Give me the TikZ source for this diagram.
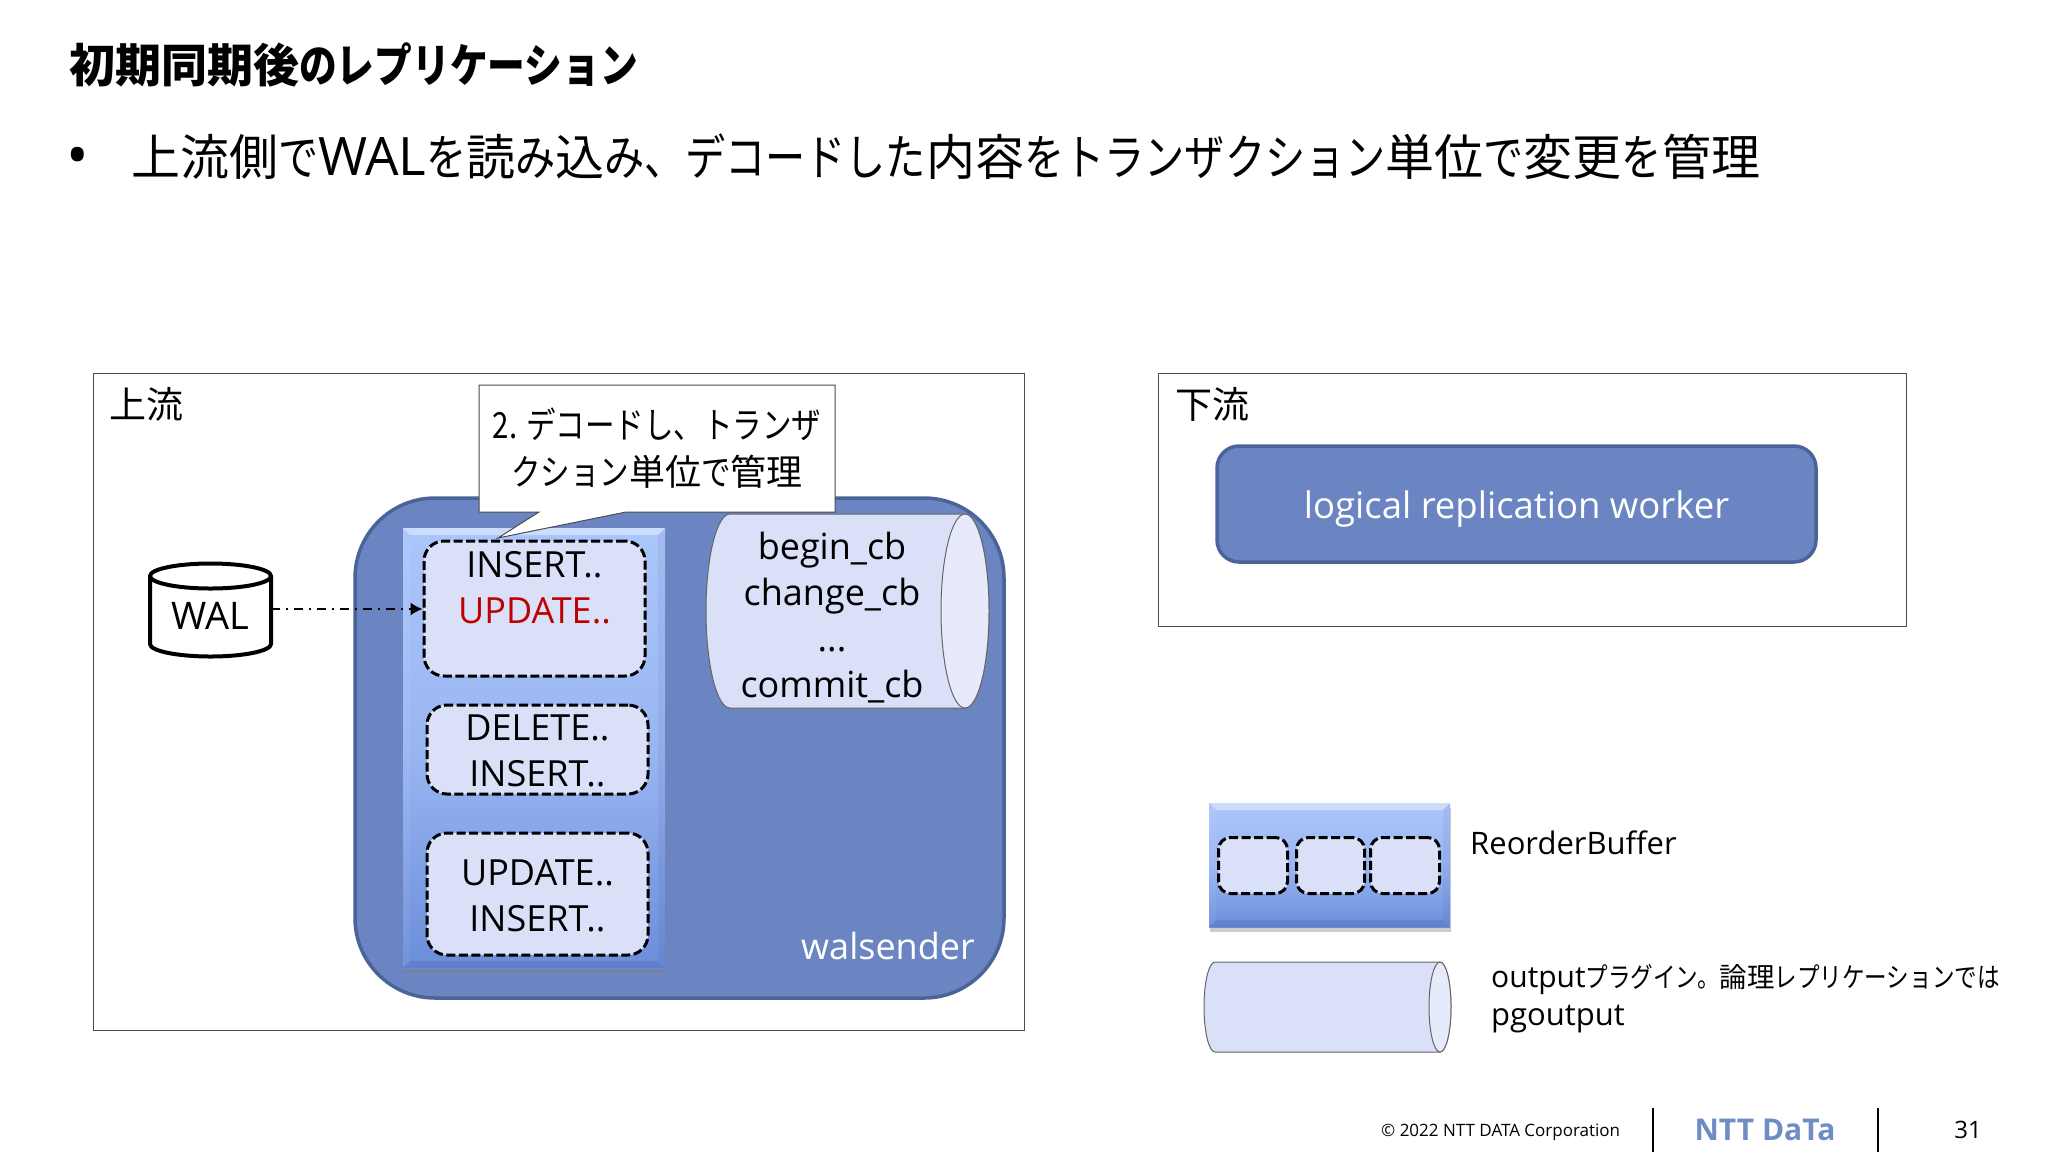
\documentclass[tikz,border=0pt]{standalone}
\usepackage{fontspec}
\setmainfont{Open Sans}
\newfontfamily\jpfont{Noto Sans CJK JP}
\newfontfamily\kanafont[FakeStretch=0.82]{Noto Sans CJK JP}
\newcommand{\kn}[1]{{\kanafont #1}}
\newcommand{\kj}[1]{{\jpfont #1}}
\usetikzlibrary{arrows.meta,shadows}
\definecolor{slateblue}{HTML}{6A85C2}
\definecolor{slateedge}{HTML}{4A6498}
\definecolor{palefill}{HTML}{DAE0F8}
\definecolor{paleend}{HTML}{E6EAFA}
\definecolor{nttblue}{HTML}{6F8CC4}
\definecolor{buftop}{HTML}{ABC6FA}
\definecolor{bufmid}{HTML}{9AB6F2}
\definecolor{bufbot}{HTML}{6B8EDA}
\tikzset{
  framebox/.style={draw=black!70, line width=1pt, fill=white, inner sep=0pt},
  bluebox/.style={draw=slateedge, line width=3.5pt, fill=slateblue, inner sep=0pt},
  txnbox/.style={draw=black, line width=3pt, dash pattern=on 9pt off 3.5pt, fill=palefill,
    rounded corners=20pt, inner sep=0pt, align=center, font=\fontsize{36}{46}\selectfont},
  lbl/.style={inner sep=0pt, align=center, font=\fontsize{36}{46}\selectfont},
  cylbody/.style={draw=black!60, line width=1pt, fill=palefill},
  cylend/.style={draw=black!60, line width=1pt, fill=paleend},
  bufferbox/.style={draw=none, top color=buftop, bottom color=bufbot, middle color=bufmid,
    drop shadow={shadow xshift=1pt, shadow yshift=-5pt, opacity=.4}, inner sep=0pt}
}
% bevel strips on the edges of a buffer: left, top, right, bottom
\newcommand{\bevel}[4]{
  \fill[white, opacity=.4] (#1,#2) -- (#3,#2) -- (#3-7,#2+7) -- (#1+7,#2+7) -- cycle;
  \fill[white, opacity=.05] (#1,#2) -- (#1+7,#2+7) -- (#1+7,#4-7) -- (#1,#4) -- cycle;
  \fill[black!60!blue, opacity=.05] (#3,#2) -- (#3-7,#2+7) -- (#3-7,#4-7) -- (#3,#4) -- cycle;
  \fill[black!60!blue, opacity=.1] (#1,#4) -- (#1+7,#4-7) -- (#3-7,#4-7) -- (#3,#4) -- cycle;
}
\begin{document}
\begin{tikzpicture}[x=1pt,y=-1pt]
  \useasboundingbox (0,0) rectangle (2048,1152);

  %% heading
  \node[anchor=west, inner sep=0pt, font=\fontsize{46}{54}\selectfont\bfseries\jpfont] (title) at (69,65)
    {初期同期後\kn{のレプリケーション}};
  \node[anchor=center, inner sep=0pt, font=\fontsize{60}{64}\selectfont] (dot) at (78,162) {•};
  \node[anchor=west, inner sep=0pt, font=\fontsize{49}{60}\selectfont\jpfont] (lead) at (131,157)
    {上流側\kn{で}{\fontspec{Open Sans}\fontsize{53}{60}\selectfont WAL}\kn{を}読\kn{み}込\kn{み、デコードした}内容\kn{をトランザクション}単位\kn{で}変更\kn{を}管理};

  %% upstream
  \node[framebox, minimum width=931pt, minimum height=657pt] (upstream) at (558.5,701.5) {};
  \node[anchor=west, inner sep=0pt, font=\fontsize{37}{44}\selectfont\jpfont] (upstreamlabel) at (109,404) {上流};
  \node[bluebox, minimum width=649pt, minimum height=500pt, rounded corners=80pt] (walsender) at (679.5,748) {};
  \node[lbl, text=white] (walsenderlabel) at (888,946) {walsender};

  %% reorder buffer
  \node[bufferbox, minimum width=262pt, minimum height=440pt] (buffer) at (534,748) {};
  \bevel{403}{528}{665}{968}
  \node[txnbox, minimum width=221pt, minimum height=135pt] (txna) at (534.5,608.5) {};
  \node[lbl] (txnatext) at (534.5,588) {INSERT..\\\textcolor[HTML]{C00000}{UPDATE..}};
  \node[txnbox, minimum width=221pt, minimum height=89pt] (txnb) at (537.5,749.5) {};
  \node[lbl] (txnbtext) at (537.5,751) {DELETE..\\INSERT..};
  \node[txnbox, minimum width=221pt, minimum height=122pt] (txnc) at (537.5,894) {};
  \node[lbl] (txnctext) at (537.5,896) {UPDATE..\\INSERT..};

  %% output plugin
  \draw[cylbody] (730,514) -- (965,514) arc[start angle=90, end angle=-90, x radius=24pt, y radius=97pt]
    -- (730,708) arc[start angle=270, end angle=90, x radius=24pt, y radius=97pt] -- cycle;
  \draw[cylend] (965,611) ellipse[x radius=24pt, y radius=97pt];
  \node[lbl] (plugintext) at (832,618) {begin\_cb\\change\_cb\\...\\commit\_cb};

  %% callout
  \draw[draw=black!70, line width=1pt, fill=white] (479,385) -- (835,385) -- (835,512) -- (626,512)
    -- (498,538) -- (539,512) -- (479,512) -- cycle;
  \node[lbl, font=\fontsize{36}{47}\selectfont\jpfont] (calloutlabel) at (657,448)
    {\kn{2. デコードし、トランザ}\\\kn{クション}単位\kn{で}管理};

  %% WAL
  \draw[line width=4pt, fill=white, line join=round] (150,576) arc[start angle=180, end angle=0, x radius=60.5pt, y radius=12.5pt]
    -- (271,644) arc[start angle=0, end angle=-180, x radius=60.5pt, y radius=12.5pt] -- cycle;
  \draw[line width=4pt] (150,576) arc[start angle=180, end angle=360, x radius=60.5pt, y radius=12.5pt];
  \node[lbl, font=\fontsize{38}{46}\selectfont] (wal) at (210.5,616) {WAL};
  \coordinate (walport) at (271,609);
  \draw[line width=1.5pt, dash pattern=on 9pt off 6pt on 2pt off 6pt, -{Latex[length=12pt,width=13pt]}]
    (walport) -- (walport -| txna.west);

  %% downstream
  \node[framebox, minimum width=748pt, minimum height=253pt] (downstream) at (1532,499.5) {};
  \node[anchor=west, inner sep=0pt, font=\fontsize{37}{44}\selectfont\jpfont] (downstreamlabel) at (1175,404) {下流};
  \node[bluebox, minimum width=599pt, minimum height=116pt, rounded corners=22pt] (worker) at (1516.5,504) {};
  \node[lbl, text=white, font=\fontsize{36.5}{46}\selectfont] (workerlabel) at (1516.5,509) {logical replication worker};

  %% legend
  \node[bufferbox, minimum width=241pt, minimum height=124pt] (legendbuffer) at (1329.5,865) {};
  \bevel{1209}{803}{1450}{927}
  \node[txnbox, minimum width=69pt, minimum height=56pt, rounded corners=12pt] (slota) at (1253,865.5) {};
  \node[txnbox, minimum width=68pt, minimum height=56pt, rounded corners=12pt] (slotb) at (1330.5,865.5) {};
  \node[txnbox, minimum width=69pt, minimum height=56pt, rounded corners=12pt] (slotc) at (1405,865.5) {};
  \node[anchor=west, inner sep=0pt, font=\fontsize{31}{40}\selectfont] (bufferlabel) at (1470,843) {ReorderBuffer};
  \draw[cylbody] (1215,962) -- (1440,962) arc[start angle=90, end angle=-90, x radius=11pt, y radius=45pt]
    -- (1215,1052) arc[start angle=270, end angle=90, x radius=11pt, y radius=45pt] -- cycle;
  \draw[cylend] (1440,1007) ellipse[x radius=11pt, y radius=45pt];
  \node[anchor=west, inner sep=0pt, font=\fontsize{30}{37}\selectfont] (pluginlabel) at (1491,980)
    {output{\fontsize{27.5}{37}\selectfont\kn{プラグイン。}\kj{論理}\kn{レプリケーションでは}}};
  \node[anchor=west, inner sep=0pt, font=\fontsize{31}{37}\selectfont] (pluginname) at (1491,1019) {pgoutput};

  %% footer
  \node[anchor=west, inner sep=0pt, font=\fontsize{17}{20}\selectfont] (copyright) at (1381,1132) {© 2022 NTT DATA Corporation};
  \node[anchor=center, inner sep=0pt, text=nttblue, font=\fontsize{30}{34}\selectfont\bfseries] (logo) at (1765,1130) {NTT DaTa};
  \node[anchor=center, inner sep=0pt, font=\fontsize{24}{28}\selectfont] (pageno) at (1968,1130) {31};
  \draw[line width=1.5pt] (1653,1108) -- (1653,1152);
  \draw[line width=1.5pt] (1878,1108) -- (1878,1152);
\end{tikzpicture}
\end{document}
